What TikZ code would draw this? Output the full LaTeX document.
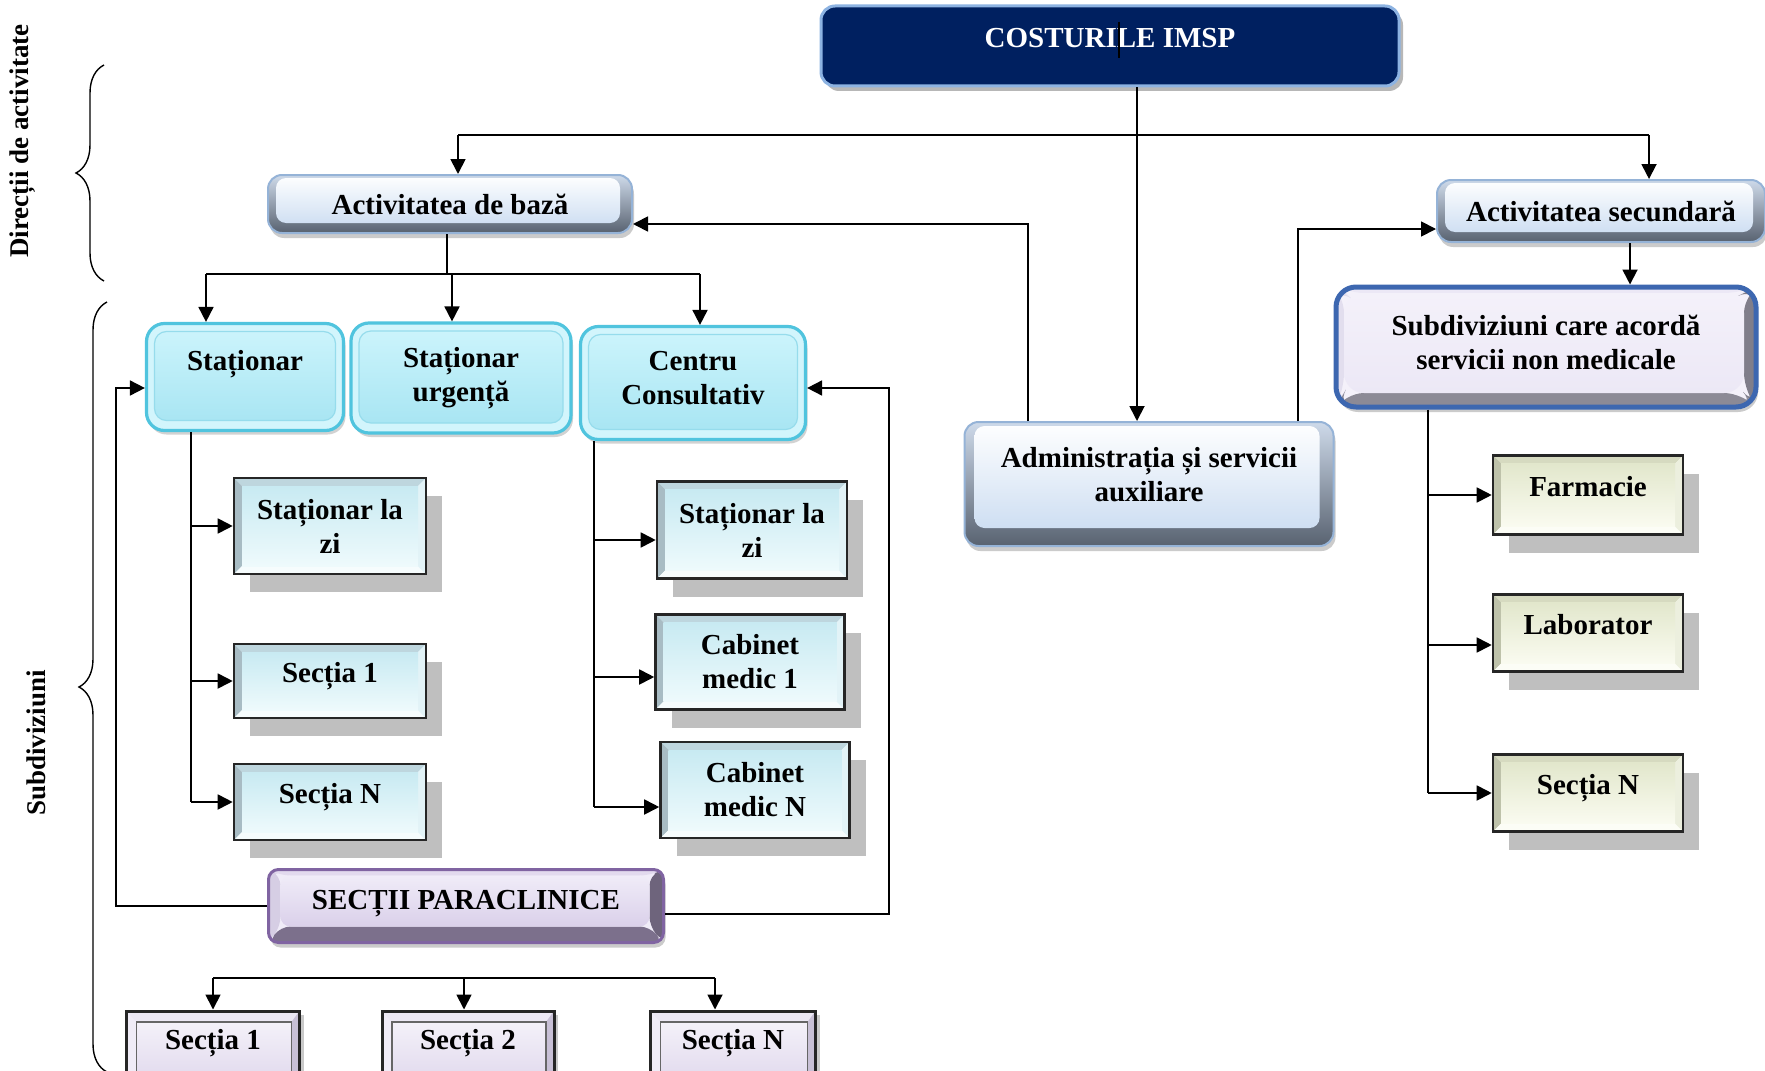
\documentclass[tikz,border=0pt]{standalone}
\usepackage{fontspec}
\setmainfont{Liberation Serif}
\usetikzlibrary{arrows.meta,shadows,decorations.pathreplacing}

% ---------- colours ----------
\definecolor{navyfill}{RGB}{0,32,96}
\definecolor{navyrim}{RGB}{141,179,226}
\definecolor{mainrim}{RGB}{149,179,215}
\definecolor{mainouttop}{RGB}{206,218,234}
\definecolor{mainoutbot}{RGB}{88,98,112}
\definecolor{maininbot}{RGB}{198,217,240}
\definecolor{cyrim}{RGB}{80,196,222}
\definecolor{cyfill}{RGB}{210,245,252}
\definecolor{cyinrim}{RGB}{150,220,236}
\definecolor{cyintop}{RGB}{206,245,252}
\definecolor{cyinbot}{RGB}{165,228,242}
\definecolor{scT}{RGB}{190,214,222}
\definecolor{scL}{RGB}{168,188,196}
\definecolor{scB}{RGB}{246,252,253}
\definecolor{scR}{RGB}{226,243,247}
\definecolor{scCa}{RGB}{200,234,242}
\definecolor{scCb}{RGB}{238,250,252}
\definecolor{crT}{RGB}{214,218,192}
\definecolor{crL}{RGB}{190,194,170}
\definecolor{crB}{RGB}{252,253,246}
\definecolor{crR}{RGB}{236,239,222}
\definecolor{crCa}{RGB}{226,231,204}
\definecolor{crCb}{RGB}{250,251,240}
\definecolor{prrim}{RGB}{128,100,162}
\definecolor{prT}{RGB}{226,218,238}
\definecolor{prL}{RGB}{214,206,228}
\definecolor{prB}{RGB}{124,112,140}
\definecolor{prR}{RGB}{110,100,124}
\definecolor{prCa}{RGB}{240,236,248}
\definecolor{prCb}{RGB}{218,208,234}
\definecolor{subrim}{RGB}{61,103,176}
\definecolor{sbT}{RGB}{236,232,246}
\definecolor{sbL}{RGB}{226,222,238}
\definecolor{sbB}{RGB}{140,138,150}
\definecolor{sbR}{RGB}{128,126,138}
\definecolor{sbCa}{RGB}{244,241,250}
\definecolor{sbCb}{RGB}{236,232,246}
\definecolor{btfill}{RGB}{228,222,238}
\definecolor{btT}{RGB}{236,232,244}
\definecolor{btL}{RGB}{240,236,247}
\definecolor{btB}{RGB}{190,182,204}
\definecolor{btR}{RGB}{200,192,214}
\definecolor{btCa}{RGB}{244,241,249}
\definecolor{btCb}{RGB}{226,219,238}
\definecolor{shadowgrey}{RGB}{191,191,191}

% ---------- bevel helpers (used inside path pictures) ----------
% #1..#4: top, left, bottom, right face colours; #5..#8: left, top, right, bottom insets
\newcommand\bevelfaces[8]{%
  \fill[#1] (path picture bounding box.north west) -- (path picture bounding box.north east)
    -- ([shift={(-#7,-#6)}]path picture bounding box.north east)
    -- ([shift={(#5,-#6)}]path picture bounding box.north west) -- cycle;
  \fill[#2] (path picture bounding box.north west) -- (path picture bounding box.south west)
    -- ([shift={(#5,#8)}]path picture bounding box.south west)
    -- ([shift={(#5,-#6)}]path picture bounding box.north west) -- cycle;
  \fill[#3] (path picture bounding box.south west) -- (path picture bounding box.south east)
    -- ([shift={(-#7,#8)}]path picture bounding box.south east)
    -- ([shift={(#5,#8)}]path picture bounding box.south west) -- cycle;
  \fill[#4] (path picture bounding box.north east) -- (path picture bounding box.south east)
    -- ([shift={(-#7,#8)}]path picture bounding box.south east)
    -- ([shift={(-#7,-#6)}]path picture bounding box.north east) -- cycle;}
% #1,#2: top and bottom colour of the face; #3..#6: left, top, right, bottom insets
\newcommand\bevelcentre[6]{%
  \shade[top color=#1,bottom color=#2]
    ([shift={(#3,-#4)}]path picture bounding box.north west) rectangle
    ([shift={(-#5,#6)}]path picture bounding box.south east);}

\tikzset{
  every node/.style={font=\bfseries\fontsize{14.5}{17}\selectfont, align=center, inner sep=2pt},
  arr/.style={line width=0.9pt, -{Triangle[length=7.5pt,width=7.5pt]}},
  link/.style={line width=0.9pt},
  sidelbl/.style={font=\bfseries\fontsize{13.5}{16}\selectfont, rotate=90},
  lift/.style={text depth=9pt},
  headbox/.style={rounded corners=7pt, fill=navyfill, draw=navyrim, line width=1.5pt,
    text=white, text depth=8pt,
    drop shadow={shadow xshift=2pt, shadow yshift=-2.5pt, fill=black!40, opacity=.7}},
  mainbox/.style n args={4}{rounded corners=7pt, draw=mainrim, line width=1pt,
    top color=mainouttop, bottom color=mainoutbot,
    path picture={\shade[rounded corners=5pt, top color=white, bottom color=maininbot]
      ([shift={(#1,-#2)}]path picture bounding box.north west) rectangle
      ([shift={(-#3,#4)}]path picture bounding box.south east);},
    drop shadow={shadow xshift=1pt, shadow yshift=-2.5pt, fill=black!40, opacity=.5}},
  cyround/.style={rounded corners=9pt, fill=cyfill, draw=cyrim, line width=1.6pt,
    path picture={\shadedraw[rounded corners=6pt, top color=cyintop, bottom color=cyinbot,
        draw=cyinrim, line width=.6pt]
      ([shift={(4pt,-4pt)}]path picture bounding box.north west) rectangle
      ([shift={(-4pt,5pt)}]path picture bounding box.south east);},
    drop shadow={shadow xshift=1pt, shadow yshift=-2pt, fill=black!35, opacity=.5}},
  cybevel/.style={draw=black!85, line width=1.3pt, fill=scCb,
    path picture={\bevelfaces{scT}{scL}{scB}{scR}{4pt}{4pt}{4pt}{4pt}%
      \bevelcentre{scCa}{scCb}{4pt}{4pt}{4pt}{4pt}},
    drop shadow={shadow xshift=8pt, shadow yshift=-9pt, fill=shadowgrey, opacity=1}},
  crbevel/.style={draw=black!85, line width=1.3pt, fill=crCb,
    path picture={\bevelfaces{crT}{crL}{crB}{crR}{4pt}{4pt}{4pt}{4pt}%
      \bevelcentre{crCa}{crCb}{4pt}{4pt}{4pt}{4pt}},
    drop shadow={shadow xshift=8pt, shadow yshift=-9pt, fill=shadowgrey, opacity=1}},
  parabox/.style={rounded corners=5pt, draw=prrim, line width=1.5pt, fill=prCa, text depth=6pt,
    path picture={\bevelfaces{prT}{prL}{prB}{prR}{6pt}{3pt}{7pt}{8pt}%
      \bevelcentre{prCa}{prCb}{6pt}{3pt}{7pt}{8pt}},
    drop shadow={shadow xshift=1pt, shadow yshift=-2.5pt, fill=black!40, opacity=.5}},
  subbox/.style={rounded corners=10pt, draw=subrim, line width=2.5pt, fill=sbCa, text depth=5pt,
    path picture={\bevelfaces{sbT}{sbL}{sbB}{sbR}{4pt}{3pt}{6pt}{7pt}%
      \bevelcentre{sbCa}{sbCb}{4pt}{3pt}{6pt}{7pt}},
    drop shadow={shadow xshift=1pt, shadow yshift=-2.5pt, fill=black!40, opacity=.5}},
  botbox/.style={draw=black!85, line width=1.5pt, fill=btfill,
    path picture={\bevelfaces{btT}{btL}{btB}{btR}{5pt}{5.5pt}{4pt}{4pt}%
      \shadedraw[top color=btCa, bottom color=btCb, draw=black!60, line width=.7pt]
        ([shift={(5pt,-5.5pt)}]path picture bounding box.north west) rectangle
        ([shift={(-4pt,4pt)}]path picture bounding box.south east);},
    drop shadow={shadow xshift=2pt, shadow yshift=-2pt, fill=black!35, opacity=.6}},
  bracestyle/.style={line width=0.7pt, decorate, decoration={brace, amplitude=14pt}}
}

\begin{document}
\begin{tikzpicture}[x=0.5pt, y=-0.5pt]
\useasboundingbox (0,0) rectangle (1765,1070);
\clip (0,0) rectangle (1765,1070);
\fill[white] (0,0) rectangle (1765,1070);

% ---------- side labels and braces ----------
\node[sidelbl] (dirLbl) at (23,141) {Direcții de activitate};
\node[sidelbl] (subLbl) at (36,743) {Subdiviziuni};
\draw[bracestyle] (104,281) -- (104,65);
\draw[bracestyle] (107,1072) -- (107,302);

% ---------- top level ----------
\node[headbox, minimum width=289pt, minimum height=40pt] (top) at (1110,46) {COSTURILE IMSP};
\draw[line width=0.6pt] (1119,22) -- (1119,58);

\node[mainbox={4pt}{1.5pt}{6pt}{5pt}, minimum width=182pt, minimum height=29pt] (baza) at (450,204) {Activitatea de bază};
\node[mainbox={4pt}{1.5pt}{6pt}{5pt}, minimum width=164pt, minimum height=31pt] (sec) at (1601,211) {Activitatea secundară};
\node[mainbox={5pt}{2pt}{7pt}{9pt}, minimum width=184.5pt, minimum height=62pt, text depth=10pt] (admin) at (1149,484) {Administrația și servicii\\auxiliare};
\node[subbox, minimum width=210pt, minimum height=60pt] (sub) at (1546,347) {Subdiviziuni care acordă\\servicii non medicale};

% ---------- main activity units ----------
\node[cyround, minimum width=98.5pt, minimum height=53.5pt] (stat) at (245,377) {Staționar\\\mbox{}};
\node[cyround, minimum width=110pt, minimum height=55pt] (urg) at (461,378) {Staționar\\urgență};
\node[cyround, minimum width=112.5pt, minimum height=56.5pt, text depth=5pt] (cc) at (693,383) {Centru\\Consultativ};

\node[cybevel, minimum width=96pt, minimum height=48pt] (slzA) at (330,526) {Staționar la\\zi};
\node[cybevel, lift, minimum width=96pt, minimum height=37pt] (secA1) at (330,681) {Secția 1};
\node[cybevel, lift, minimum width=96pt, minimum height=38pt] (secAN) at (330,802) {Secția N};

\node[cybevel, minimum width=95pt, minimum height=48.5pt] (slzB) at (752,530) {Staționar la\\zi};
\node[cybevel, minimum width=94.5pt, minimum height=47.5pt] (cab1) at (750,662) {Cabinet\\medic 1};
\node[cybevel, minimum width=94.5pt, minimum height=48pt] (cabN) at (755,790) {Cabinet\\medic N};

% ---------- non-medical units ----------
\node[crbevel, lift, minimum width=95pt, minimum height=39.5pt] (farm) at (1588,495) {Farmacie};
\node[crbevel, lift, minimum width=95pt, minimum height=38.5pt] (lab) at (1588,633) {Laborator};
\node[crbevel, lift, minimum width=95pt, minimum height=38.5pt] (secRN) at (1588,793) {Secția N};

% ---------- paraclinical units ----------
\node[parabox, minimum width=197.5pt, minimum height=36.5pt] (para) at (466,906) {SECȚII PARACLINICE};
\node[botbox, lift, minimum width=86.5pt, minimum height=37pt] (bot1) at (213,1048) {Secția 1};
\node[botbox, lift, minimum width=86pt, minimum height=37pt] (bot2) at (468,1048) {Secția 2};
\node[botbox, lift, minimum width=82.5pt, minimum height=37pt] (bot3) at (733,1048) {Secția N};

% ---------- connectors: top level ----------
\coordinate (jTop) at (1137,135);
\coordinate (jL) at (458,135);
\coordinate (jR) at (1649,135);
\draw[arr] (top.south -| jTop) -- (admin.north -| jTop);
\draw[link] (jL) -- (jR);
\draw[arr] (jL) -- (jL |- baza.north);
\draw[arr] (jR) -- (jR |- sec.north);

\coordinate (kL) at (1028,224);
\draw[arr] (admin.north -| kL) -- (kL) -- (kL -| baza.east);
\coordinate (kR) at (1298,229);
\draw[arr] (admin.north -| kR) -- (kR) -- (kR -| sec.west);
\coordinate (kS) at (1630,0);
\draw[arr] (sec.south -| kS) -- (sub.north -| kS);

% ---------- connectors: main activity ----------
\coordinate (mB) at (447,274);
\coordinate (mL) at (206,274);
\coordinate (mU) at (452,274);
\coordinate (mR) at (700,274);
\draw[link] (baza.south -| mB) -- (mB);
\draw[link] (mL) -- (mR);
\draw[arr] (mL) -- (mL |- stat.north);
\draw[arr] (mU) -- (mU |- urg.north);
\draw[arr] (mR) -- (mR |- cc.north);

\coordinate (sA) at (191,0);
\draw[link] (stat.south -| sA) -- (sA |- secAN.west);
\draw[arr] (sA |- slzA.west) -- (slzA.west);
\draw[arr] (sA |- secA1.west) -- (secA1.west);
\draw[arr] (sA |- secAN.west) -- (secAN.west);

\coordinate (sB) at (594,0);
\coordinate (bq1) at ([yshift=-5pt]slzB.west);
\coordinate (bq2) at ([yshift=-7.5pt]cab1.west);
\coordinate (bq3) at ([yshift=-8.5pt]cabN.west);
\draw[link] (cc.south -| sB) -- (sB |- bq3);
\draw[arr] (sB |- bq1) -- (bq1);
\draw[arr] (sB |- bq2) -- (bq2);
\draw[arr] (sB |- bq3) -- (bq3);

% ---------- connectors: paraclinical loops ----------
\coordinate (pL) at (116,388);
\draw[arr] (para.west) -| (pL) -- (pL -| stat.west);
\coordinate (pR) at (889,388);
\draw[arr] ([yshift=-4pt]para.east) -| (pR) -- (pR -| cc.east);

\coordinate (uL) at (213,978);
\coordinate (uM) at (464,978);
\coordinate (uR) at (715,978);
\draw[link] (uL) -- (uR);
\draw[arr] (uL) -- (uL |- bot1.north);
\draw[arr] (uM) -- (uM |- bot2.north);
\draw[arr] (uR) -- (uR |- bot3.north);

% ---------- connectors: non-medical units ----------
\coordinate (sC) at (1428,0);
\coordinate (rq2) at ([yshift=-6pt]lab.west);
\draw[link] (sub.south -| sC) -- (sC |- secRN.west);
\draw[arr] (sC |- farm.west) -- (farm.west);
\draw[arr] (sC |- rq2) -- (rq2);
\draw[arr] (sC |- secRN.west) -- (secRN.west);
\end{tikzpicture}
\end{document}
